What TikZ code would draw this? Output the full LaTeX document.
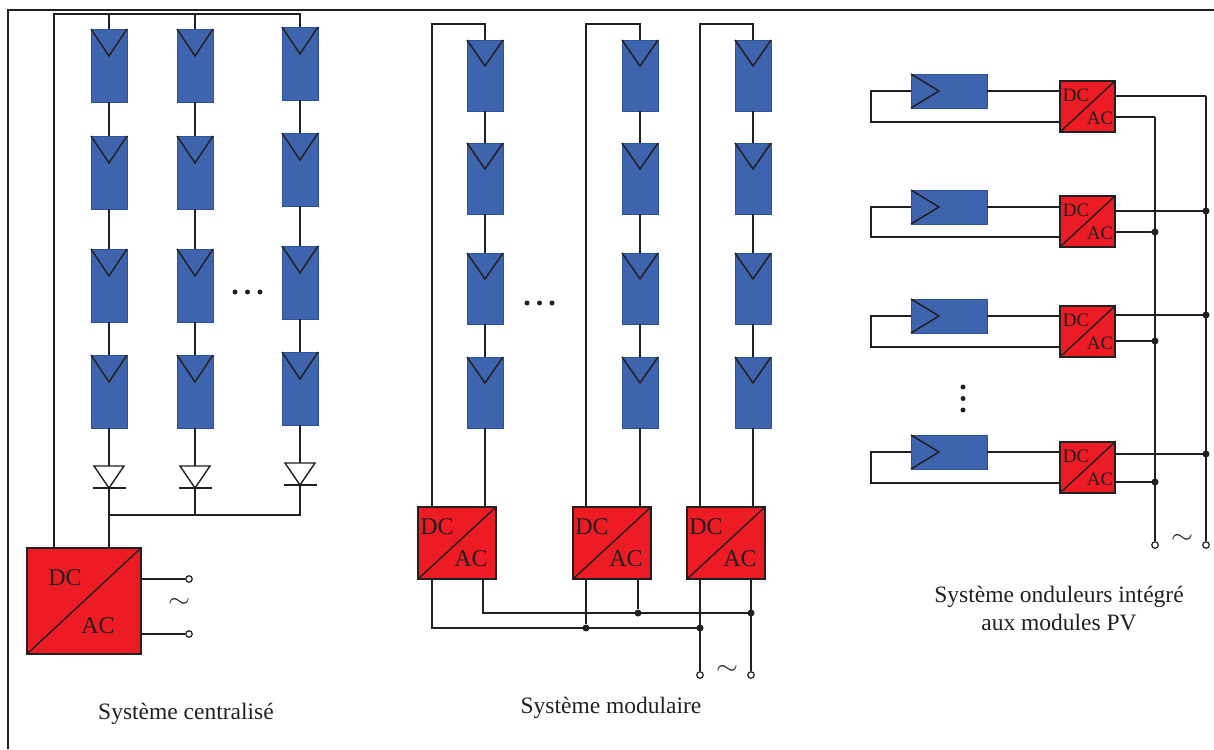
\documentclass[tikz,border=0pt]{standalone}
\usepackage{graphicx}
\usepackage{fontspec}
\setmainfont{Liberation Serif}
\usetikzlibrary{calc}
\definecolor{pvblue}{HTML}{3F64AE}
\definecolor{pvedge}{HTML}{2B52A0}
\definecolor{invred}{HTML}{ED1C24}
\definecolor{ink}{HTML}{231F20}
\tikzset{
 wire/.style={draw=ink, line width=1.4pt},
 frameline/.style={draw=ink, line width=2pt},
 pvbox/.style={rectangle, fill=pvblue, draw=pvedge, line width=0.8pt, inner sep=0pt, outer sep=0pt},
 pvmark/.style={draw=ink, line width=1.5pt},
 invbox/.style={rectangle, fill=invred, draw=ink, line width=1.7pt, inner sep=0pt, outer sep=0pt,
   path picture={\draw[ink, line width=1.4pt] (path picture bounding box.south west) -- (path picture bounding box.north east);}},
 invtxt/.style={inner sep=0pt, text=ink},
 diodebox/.style={rectangle, inner sep=0pt, outer sep=0pt, minimum width=33pt, minimum height=22pt},
 term/.style={circle, draw=ink, fill=white, line width=1.2pt, minimum size=6.5pt, inner sep=0pt},
 jdot/.style={circle, fill=ink, minimum size=7pt, inner sep=0pt},
 smalldot/.style={circle, fill=ink, minimum size=5pt, inner sep=0pt},
 tilde/.style={inner sep=0pt, text=ink},
 caption/.style={inner sep=0pt, text=ink, font=\fontsize{23.5}{28}\selectfont, anchor=base},
}
\newcommand\tildesign{\resizebox{22pt}{9pt}{$\sim$}}
% vertical PV panel: name, x centre, y top, height, V depth
\newcommand\PVv[5]{%
 \node[pvbox, minimum width=36pt, minimum height=#4pt, anchor=north] (#1) at (#2,#3) {};
 \draw[pvmark] (#1.north west) -- ([yshift=-#5pt]#1.north) -- (#1.north east);}
% horizontal PV panel: name, x left, y top
\newcommand\PVh[3]{%
 \node[pvbox, minimum width=76pt, minimum height=34pt, anchor=north west] (#1) at (#2,#3) {};
 \draw[pvmark] (#1.north west) -- ([xshift=28pt]#1.west) -- (#1.south west);}
% diode: name, x centre, y top
\newcommand\Diode[3]{%
 \node[diodebox, anchor=north] (#1) at (#2,#3) {};
 \draw[wire, fill=white] ([xshift=1.5pt]#1.north west) -- (#1.south) -- ([xshift=-1.5pt]#1.north east) -- cycle;
 \draw[wire] (#1.south west) -- (#1.south east);}
% inverter: name, x, y (north west), w, h, font size, DC offset, AC offset
\newcommand\Inv[8]{%
 \node[invbox, minimum width=#4pt, minimum height=#5pt, anchor=north west] (#1) at (#2,#3) {};
 \node[invtxt, font=\fontsize{#6}{#6}\selectfont] (#1dc) at ($(#1.north west)+(#7)$) {DC};
 \node[invtxt, font=\fontsize{#6}{#6}\selectfont] (#1ac) at ($(#1.north west)+(#8)$) {AC};}
\begin{document}
\begin{tikzpicture}[x=1pt,y=-1pt]
\useasboundingbox (0,0) rectangle (1214,749);
\draw[frameline] (8,749) -- (8,10) -- (1214,10);

%% ---------------- Système centralisé ----------------
\foreach \c/\x in {1/109,2/195}{
  \PVv{L\c1}{\x}{29}{73}{27}
  \PVv{L\c2}{\x}{136}{73}{27}
  \PVv{L\c3}{\x}{249}{73}{27}
  \PVv{L\c4}{\x}{355}{73}{27}
}
\PVv{L31}{300}{27}{73}{27}
\PVv{L32}{300}{133}{73}{27}
\PVv{L33}{300}{246}{73}{27}
\PVv{L34}{300}{352}{73}{27}
\Diode{D1}{109}{466}
\Diode{D2}{195}{466}
\Diode{D3}{300}{463}
\Inv{LI}{27}{548}{114}{106}{24}{38,30}{71,78}
\coordinate (Ltop) at (54,14);
\coordinate (Lin1) at (54,548);
\coordinate (Lbus) at (109,515);
\coordinate (Lin2) at (109,548);
\draw[wire] (Lin1) -- (Ltop) -| (L31.north);
\draw[wire] (L11.north) -- (L11.north |- Ltop);
\draw[wire] (L21.north) -- (L21.north |- Ltop);
\foreach \c/\d in {1/D1,2/D2,3/D3}{
  \draw[wire] (L\c1.south) -- (L\c2.north);
  \draw[wire] (L\c2.south) -- (L\c3.north);
  \draw[wire] (L\c3.south) -- (L\c4.north);
  \draw[wire] (L\c4.south) -- (\d.north);
}
\draw[wire] (D1.south) -- (Lin2);
\draw[wire] (Lbus) -| (D3.south);
\draw[wire] (D2.south) -- (D2.south |- Lbus);
\node[term] (LT1) at (189,579) {};
\node[term] (LT2) at (189,634) {};
\draw[wire] (LI.east |- LT1) -- (LT1);
\draw[wire] (LI.east |- LT2) -- (LT2);
\node[tilde] (Ltil) at (179,603) {\tildesign};
\node[smalldot] (Ld1) at (235,292) {};
\node[smalldot] (Ld2) at (247.5,292) {};
\node[smalldot] (Ld3) at (260,292) {};
\node[caption] (Lcap) at (186,719) {Système centralisé};

%% ---------------- Système modulaire ----------------
\foreach \c/\x/\xi/\xl in {A/485/418/432,B/640/573/586,C/753/687/700}{
  \PVv{M\c1}{\x}{40}{71}{26}
  \PVv{M\c2}{\x}{143}{71}{26}
  \PVv{M\c3}{\x}{253}{71}{26}
  \PVv{M\c4}{\x}{357}{71}{26}
  \Inv{M\c I}{\xi}{507}{78}{72}{24}{19,20}{53,52}
  \coordinate (M\c t) at (\xl,24);
  \coordinate (M\c in) at (\xl,507);
  \draw[wire] (M\c in) -- (M\c t) -| (M\c1.north);
  \draw[wire] (M\c1.south) -- (M\c2.north);
  \draw[wire] (M\c2.south) -- (M\c3.north);
  \draw[wire] (M\c3.south) -- (M\c4.north);
  \draw[wire] (M\c4.south) -- (M\c4.south |- M\c I.north);
}
\coordinate (MAo1) at (432,579);
\coordinate (MAo2) at (483,579);
\coordinate (MBo1) at (586,579);
\coordinate (MBo2) at (638,579);
\coordinate (MCo1) at (700,579);
\coordinate (MCo2) at (751,579);
\node[term] (MT1) at (700,675) {};
\node[term] (MT2) at (751,675) {};
\draw[wire] (MAo1) |- (700,628);
\draw[wire] (MAo2) |- (751,613);
\draw[wire] (MCo1) -- (MT1);
\draw[wire] (MCo2) -- (MT2);
\node[jdot] (J1) at (586,628) {};
\node[jdot] (J2) at (638,613) {};
\node[jdot] (J3) at (700,628) {};
\node[jdot] (J4) at (751,613) {};
\draw[wire] (MBo1) -- (J1);
\draw[wire] (MBo2) -- (J2);
\node[tilde] (Mtil) at (727,670) {\tildesign};
\node[smalldot] (Md1) at (527,303) {};
\node[smalldot] (Md2) at (539.5,303) {};
\node[smalldot] (Md3) at (552,303) {};
\node[caption] (Mcap) at (611,713) {Système modulaire};

%% ---------------- Système onduleurs intégré ----------------
\node[term] (RT1) at (1155,545) {};
\node[term] (RT2) at (1206,545) {};
\foreach \k/\yp/\yi/\yl/\yu/\yd in {1/74/81/122/96/117,2/190/196/237/211/232,3/299/306/347/315/341,4/435/442/483/454/482}{
  \PVh{R\k}{911}{\yp}
  \Inv{RI\k}{1060}{\yi}{55}{51}{19}{16,14}{40,37}
  \coordinate (RL\k) at (871,\yl);
  \draw[wire] (R\k.east) -- (RI\k.west |- R\k.east);
  \draw[wire] (R\k.west) -| (RL\k) -- (RL\k -| RI\k.west);
  \coordinate (RU\k) at (1206,\yu);
  \coordinate (RD\k) at (1155,\yd);
  \draw[wire] (RI\k.east |- RU\k) -- (RU\k);
  \draw[wire] (RI\k.east |- RD\k) -- (RD\k);
}
\draw[wire] (RU1) -- (RT2);
\draw[wire] (RD1) -- (RT1);
\foreach \k in {2,3,4}{
  \node[jdot] at (RU\k) {};
  \node[jdot] at (RD\k) {};
}
\node[tilde] (Rtil) at (1182,539) {\tildesign};
\node[smalldot] (Rd1) at (963,387) {};
\node[smalldot] (Rd2) at (963,398.5) {};
\node[smalldot] (Rd3) at (963,410) {};
\node[caption] (Rcap1) at (1059,602) {Système onduleurs intégré};
\node[caption] (Rcap2) at (1059,630) {aux modules PV};
\end{tikzpicture}
\end{document}
